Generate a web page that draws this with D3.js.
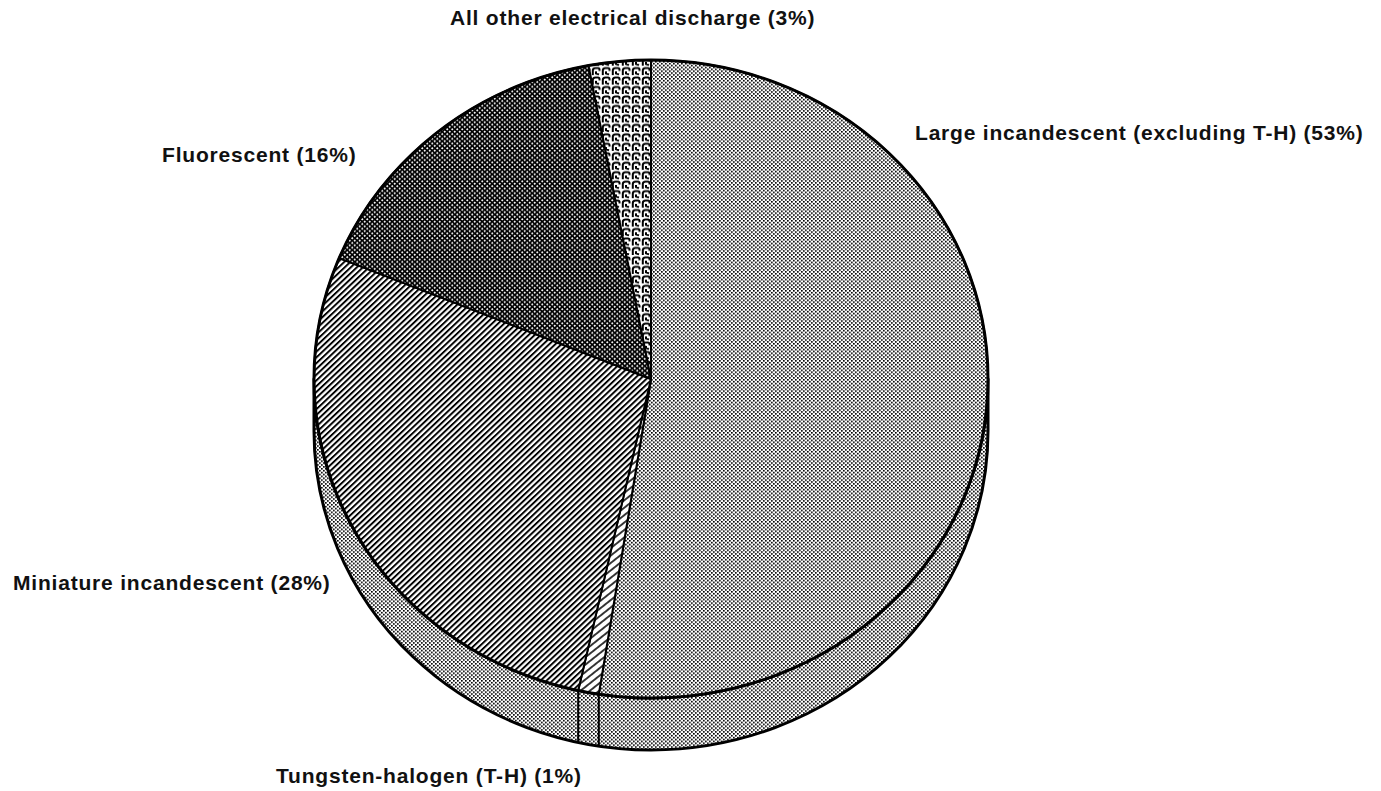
<!DOCTYPE html>
<html lang="en">
<head>
  <meta charset="UTF-8">
  <title>Lamp types</title>
  <script src="https://d3js.org/d3.v7.min.js"></script>
  <style>
    body { margin: 0; background: #fff; }
    svg { display: block; }
    .label {
      font-family: "Liberation Sans", Arial, Helvetica, sans-serif;
      font-size: 21px;
      font-weight: bold;
      letter-spacing: 0.8px;
      fill: #111;
    }
  </style>
</head>
<body>
  <svg id="chart" width="1381" height="791"></svg>

  <script>
    // slice order: clockwise starting at 12 o'clock
    const categories = [
      "Large incandescent (excluding T-H)",
      "Tungsten-halogen (T-H)",
      "Miniature incandescent",
      "Fluorescent",
      "All other electrical discharge"
    ];
    const shares = [53, 1, 28, 16, 3];
    const patterns = ["dots", "ticks", "lines", "cross", "hooks"];

    // label anchor points (left x, baseline y)
    const labelX = [915, 276, 13, 162, 450];
    const labelY = [140, 783, 590, 162, 25];

    const svg = d3.select("#chart");
    const cx = 651, cy = 379;
    const rx = 337, ry = 319;
    const depth = 52;            // thickness of the disc on screen
    const squash = ry / rx;

    const defs = svg.append("defs");

    // fine halftone stipple
    const dots = defs.append("pattern")
      .attr("id", "dots").attr("patternUnits", "userSpaceOnUse")
      .attr("width", 4).attr("height", 4);
    dots.append("rect").attr("width", 4).attr("height", 4).attr("fill", "#fff");
    dots.append("rect").attr("x", 0).attr("y", 0).attr("width", 1.7).attr("height", 1.7).attr("fill", "#000");
    dots.append("rect").attr("x", 2).attr("y", 2).attr("width", 1.7).attr("height", 1.7).attr("fill", "#000");

    // diagonal hatching  ////
    const lines = defs.append("pattern")
      .attr("id", "lines").attr("patternUnits", "userSpaceOnUse")
      .attr("width", 4.3).attr("height", 4.3)
      .attr("patternTransform", "rotate(45)");
    lines.append("rect").attr("width", 4.3).attr("height", 4.3).attr("fill", "#fff");
    lines.append("line").attr("x1", 1).attr("y1", 0).attr("x2", 1).attr("y2", 4.3)
      .attr("stroke", "#000").attr("stroke-width", 2);

    // cross-hatch: black with small white diamonds
    const cross = defs.append("pattern")
      .attr("id", "cross").attr("patternUnits", "userSpaceOnUse")
      .attr("width", 5).attr("height", 5);
    cross.append("rect").attr("width", 5).attr("height", 5).attr("fill", "#000");
    cross.append("path").attr("d", "M1.25,0 L2.5,1.25 L1.25,2.5 L0,1.25Z").attr("fill", "#fff");
    cross.append("path").attr("d", "M3.75,2.5 L5,3.75 L3.75,5 L2.5,3.75Z").attr("fill", "#fff");

    // white strip with short slanted bars
    const ticks = defs.append("pattern")
      .attr("id", "ticks").attr("patternUnits", "userSpaceOnUse")
      .attr("width", 6).attr("height", 6)
      .attr("patternTransform", "rotate(-40)");
    ticks.append("rect").attr("width", 6).attr("height", 6).attr("fill", "#fff");
    ticks.append("line").attr("x1", 0).attr("y1", 3).attr("x2", 6).attr("y2", 3)
      .attr("stroke", "#000").attr("stroke-width", 1.6);

    // little hook shapes, black on white
    const hooks = defs.append("pattern")
      .attr("id", "hooks").attr("patternUnits", "userSpaceOnUse")
      .attr("width", 10).attr("height", 10);
    hooks.append("rect").attr("width", 10).attr("height", 10).attr("fill", "#fff");
    hooks.append("path")
      .attr("d", "M1.8,9 L1.8,4 Q1.8,1.5 4.5,1.5 L7,1.5 Q8.5,1.5 8.5,3 L8.5,4.6 M5,5 L5,7.2 L8,8.4")
      .attr("fill", "none").attr("stroke", "#000").attr("stroke-width", 2);

    const pie = d3.pie().sort(null).value(d => d);
    const arcs = pie(shares);

    const r = rx;
    const d = depth / squash;
    const arc = d3.arc().innerRadius(0).outerRadius(r);

    const g = svg.append("g")
      .attr("transform", `translate(${cx},${cy}) scale(1,${squash})`);

    // side wall (front half), all stippled
    g.append("path")
      .attr("d", `M${r},0 A${r},${r} 0 0 1 ${-r},0 L${-r},${d} A${r},${r} 0 0 0 ${r},${d} Z`)
      .attr("fill", "url(#dots)")
      .attr("stroke", "#000")
      .attr("stroke-width", 3)
      .attr("stroke-linejoin", "round");

    // vertical seams where slice borders meet the visible wall
    arcs.forEach(a => {
      const ang = a.endAngle;
      if (ang > Math.PI / 2 && ang < Math.PI * 1.5) {
        const x = r * Math.sin(ang), y = -r * Math.cos(ang);
        g.append("line")
          .attr("x1", x).attr("y1", y).attr("x2", x).attr("y2", y + d)
          .attr("stroke", "#000").attr("stroke-width", 2);
      }
    });

    // top face
    g.selectAll("path.slice")
      .data(arcs)
      .join("path")
      .attr("class", "slice")
      .attr("d", arc)
      .attr("fill", (a, i) => `url(#${patterns[i]})`)
      .attr("stroke", "#000")
      .attr("stroke-width", 2)
      .attr("stroke-linejoin", "round");

    // outer rim of the top face
    g.append("ellipse")
      .attr("rx", r).attr("ry", r)
      .attr("fill", "none")
      .attr("stroke", "#000")
      .attr("stroke-width", 3);

    svg.selectAll("text.label")
      .data(categories)
      .join("text")
      .attr("class", "label")
      .attr("x", (c, i) => labelX[i])
      .attr("y", (c, i) => labelY[i])
      .text((c, i) => `${c} (${shares[i]}%)`);
  </script>
</body>
</html>
